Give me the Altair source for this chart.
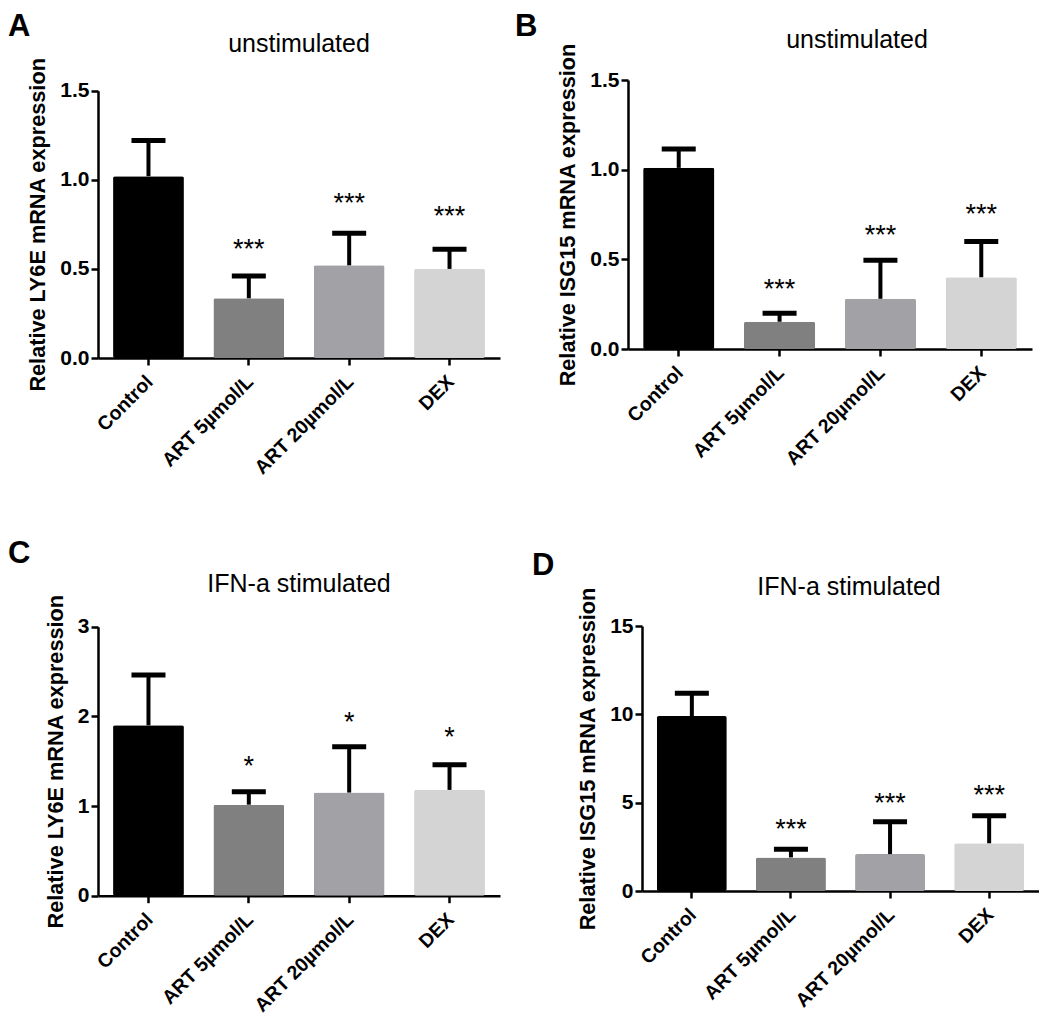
import altair as alt
import pandas as pd

groups = ["Control", "ART 5µmol/L", "ART 20µmol/L", "DEX"]
bar_colors = ["#000000", "#808080", "#a2a2a6", "#d4d4d4"]

# Panel A: LY6E, unstimulated
a_mean = [1.02, 0.335, 0.52, 0.50]
a_upper = [1.22, 0.46, 0.70, 0.61]
a_stars = ["", "***", "***", "***"]
a_star_y = [None, 0.648, 0.905, 0.83]

# Panel B: ISG15, unstimulated
b_mean = [1.01, 0.152, 0.28, 0.40]
b_upper = [1.115, 0.20, 0.495, 0.60]
b_stars = ["", "***", "***", "***"]
b_star_y = [None, 0.366, 0.668, 0.785]

# Panel C: LY6E, IFN-a stimulated
c_mean = [1.90, 1.015, 1.15, 1.18]
c_upper = [2.46, 1.16, 1.66, 1.46]
c_stars = ["", "*", "*", "*"]
c_star_y = [None, 1.51, 2.0, 1.84]

# Panel D: ISG15, IFN-a stimulated
d_mean = [9.9, 1.9, 2.09, 2.70]
d_upper = [11.2, 2.36, 3.92, 4.26]
d_stars = ["", "***", "***", "***"]
d_star_y = [None, 3.83, 5.3, 5.75]

FONT = "Liberation Sans"


def panel(letter, heading, ytitle, means, uppers, stars, star_y, ydomain, yticks, fmt,
          width, plot_h, top_off, letter_pos, heading_pos):
    total_h = plot_h + top_off
    df = pd.DataFrame({"group": groups, "mean": means, "upper": uppers,
                       "star": stars, "star_y": star_y})
    xenc = alt.X("group:N", sort=groups,
                 scale=alt.Scale(paddingInner=0.294, paddingOuter=0.15),
                 axis=alt.Axis(title=None, labelAngle=-45, labelAlign="right",
                               labelBaseline="top", labelPadding=7, labelOffset=-5))
    yaxis = alt.Axis(title=ytitle, values=yticks, format=fmt)
    yscale = alt.Scale(domain=ydomain, nice=False, range=[total_h, top_off])
    base = alt.Chart(df)
    bars = base.mark_bar(cornerRadius=2).encode(
        x=xenc,
        y=alt.Y("mean:Q", scale=yscale, axis=yaxis),
        color=alt.Color("group:N", scale=alt.Scale(domain=groups, range=bar_colors), legend=None),
    )
    rule = base.mark_rule(color="black", strokeWidth=4).encode(
        x=xenc, y=alt.Y("mean:Q", scale=yscale, axis=yaxis), y2="upper:Q")
    cap = base.mark_tick(color="black", thickness=5, size=34, opacity=1).encode(
        x=xenc, y=alt.Y("upper:Q", scale=yscale, axis=yaxis))
    star_txt = base.transform_filter("datum.star != ''").mark_text(
        fontSize=27, baseline="alphabetic", dy=15, font=FONT, color="black").encode(
        x=xenc, y=alt.Y("star_y:Q", scale=yscale, axis=yaxis), text="star:N")
    let = alt.Chart(pd.DataFrame({"t": [letter]})).mark_text(
        align="left", baseline="alphabetic", fontSize=31, fontWeight="bold",
        font=FONT, color="black").encode(
        x=alt.value(letter_pos[0]), y=alt.value(letter_pos[1]), text="t:N")
    head = alt.Chart(pd.DataFrame({"t": [heading]})).mark_text(
        align="center", baseline="alphabetic", fontSize=25, font=FONT,
        color="black").encode(
        x=alt.value(heading_pos[0]), y=alt.value(heading_pos[1]), text="t:N")
    return alt.layer(bars, rule, cap, star_txt, let, head).properties(
        width=width, height=total_h)


pA = panel("A", "unstimulated", "Relative LY6E mRNA expression", a_mean, a_upper,
           a_stars, a_star_y, [0, 1.5], [0, 0.5, 1.0, 1.5], ".1f", 402, 267.3, 10.7,
           (-90, -44), (201, -28))
pB = panel("B", "unstimulated", "Relative ISG15 mRNA expression", b_mean, b_upper,
           b_stars, b_star_y, [0, 1.5], [0, 0.5, 1.0, 1.5], ".1f", 404, 269, 0,
           (-113, -44), (229, -32))
pC = panel("C", "IFN-a stimulated", "Relative LY6E mRNA expression", c_mean, c_upper,
           c_stars, c_star_y, [0, 3], [0, 1, 2, 3], "d", 402, 269, 0.7,
           (-90, -63), (201, -34))
pD = panel("D", "IFN-a stimulated", "Relative ISG15 mRNA expression", d_mean, d_upper,
           d_stars, d_star_y, [0, 15], [0, 5, 10, 15], "d", 397, 265, 0,
           (-110, -51), (207, -31))

chart = alt.vconcat(
    alt.hconcat(pA, pB, spacing=15),
    alt.hconcat(pC, pD, spacing=32),
    spacing=60,
).properties(padding={"top": 3, "left": 0, "right": 0, "bottom": 0}).configure_view(
    stroke=None
).configure_axis(
    grid=False,
    domainColor="black", domainWidth=2.5,
    tickColor="black", tickWidth=2.5, tickSize=7,
    labelColor="black", labelFont=FONT, labelFontWeight="bold", labelFontSize=19.5,
    titleColor="black", titleFont=FONT, titleFontWeight="bold", titleFontSize=21.7,
    titlePadding=10,
).configure_axisY(labelPadding=2, labelFontSize=21)

chart.save("out.html", embed_options={"renderer": "svg", "actions": False})
